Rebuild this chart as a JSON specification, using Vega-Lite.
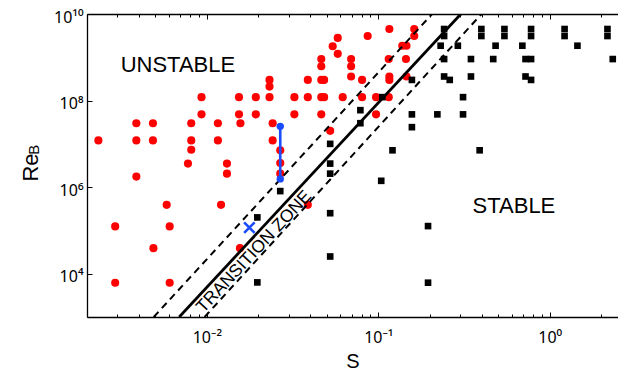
{
  "$schema": "https://vega.github.io/schema/vega-lite/v6.json",
  "width": 531,
  "height": 303,
  "autosize": {"type": "none"},
  "padding": {"left": 87, "top": 14, "right": 0, "bottom": 58},
  "background": "white",
  "config": {
    "font": "Liberation Sans",
    "view": {"stroke": null},
    "axis": {
      "grid": false,
      "domainColor": "black",
      "domainWidth": 1.3,
      "tickColor": "black",
      "tickWidth": 1,
      "labelColor": "black",
      "titleColor": "black",
      "labelFont": "Noto Sans",
      "titleFont": "Liberation Sans",
      "titleFontWeight": "normal",
      "labelOverlap": false,
      "labelBound": false,
      "labelFlush": false
    }
  },
  "datasets": {
    "unstable": [
      {"S": 0.00233, "Re": 1.2e7},
      {"S": 0.00388, "Re": 3.0e7},
      {"S": 0.00388, "Re": 1.2e7},
      {"S": 0.00388, "Re": 1.75e6},
      {"S": 0.00485, "Re": 3.0e7},
      {"S": 0.00485, "Re": 1.2e7},
      {"S": 0.00776, "Re": 3.5e6},
      {"S": 0.00811, "Re": 3.0e7},
      {"S": 0.00811, "Re": 1.2e7},
      {"S": 0.00811, "Re": 7.3e6},
      {"S": 0.00931, "Re": 1.2e8},
      {"S": 0.00931, "Re": 4.8e7},
      {"S": 0.0116, "Re": 3.0e7},
      {"S": 0.0116, "Re": 1.2e7},
      {"S": 0.0131, "Re": 3.5e6},
      {"S": 0.0131, "Re": 2.05e6},
      {"S": 0.0154, "Re": 1.2e8},
      {"S": 0.0154, "Re": 4.8e7},
      {"S": 0.0157, "Re": 3.0e7},
      {"S": 0.0193, "Re": 1.2e8},
      {"S": 0.0193, "Re": 4.8e7},
      {"S": 0.0232, "Re": 3.0e8},
      {"S": 0.0232, "Re": 2.1e8},
      {"S": 0.0232, "Re": 1.2e8},
      {"S": 0.0242, "Re": 3.0e7},
      {"S": 0.0242, "Re": 1.2e7},
      {"S": 0.0268, "Re": 7.1e6},
      {"S": 0.0268, "Re": 3.6e6},
      {"S": 0.0268, "Re": 2.05e6},
      {"S": 0.0324, "Re": 1.2e8},
      {"S": 0.0324, "Re": 4.8e7},
      {"S": 0.0388, "Re": 3.0e8},
      {"S": 0.0388, "Re": 1.2e8},
      {"S": 0.0465, "Re": 9.1e8},
      {"S": 0.0465, "Re": 6.2e8},
      {"S": 0.0465, "Re": 3.0e8},
      {"S": 0.0483, "Re": 3.0e8},
      {"S": 0.0465, "Re": 1.2e8},
      {"S": 0.0483, "Re": 1.2e8},
      {"S": 0.0465, "Re": 4.8e7},
      {"S": 0.0524, "Re": 2.0e7},
      {"S": 0.0542, "Re": 1.8e9},
      {"S": 0.058, "Re": 2.8e9},
      {"S": 0.058, "Re": 1.2e9},
      {"S": 0.062, "Re": 1.2e8},
      {"S": 0.0694, "Re": 9.1e8},
      {"S": 0.0694, "Re": 6.2e8},
      {"S": 0.0694, "Re": 3.6e8},
      {"S": 0.0804, "Re": 3.0e8},
      {"S": 0.0804, "Re": 1.2e8},
      {"S": 0.0867, "Re": 3.1e9},
      {"S": 0.097, "Re": 1.2e8},
      {"S": 0.097, "Re": 4.8e7},
      {"S": 0.116, "Re": 4.5e9},
      {"S": 0.115, "Re": 9.1e8},
      {"S": 0.116, "Re": 3.6e8},
      {"S": 0.116, "Re": 3.0e8},
      {"S": 0.115, "Re": 1.2e8},
      {"S": 0.138, "Re": 1.85e9},
      {"S": 0.146, "Re": 1.85e9},
      {"S": 0.145, "Re": 9.1e8},
      {"S": 0.146, "Re": 3.6e8},
      {"S": 0.162, "Re": 4.5e9},
      {"S": 0.162, "Re": 3.1e9},
      {"S": 0.00583, "Re": 3.9e5},
      {"S": 0.0121, "Re": 3.9e5},
      {"S": 0.00292, "Re": 1.24e5},
      {"S": 0.00607, "Re": 1.24e5},
      {"S": 0.00488, "Re": 3.9e4},
      {"S": 0.00292, "Re": 6.2e3},
      {"S": 0.00607, "Re": 6.2e3},
      {"S": 0.0156, "Re": 3.9e4},
      {"S": 0.0388, "Re": 3.9e5}
    ],
    "stable": [
      {"S": 0.242, "Re": 4.5e9}, {"S": 0.399, "Re": 4.5e9}, {"S": 0.544, "Re": 4.5e9},
      {"S": 0.778, "Re": 4.5e9}, {"S": 1.22, "Re": 4.5e9}, {"S": 2.17, "Re": 4.5e9},
      {"S": 0.242, "Re": 3.1e9}, {"S": 0.399, "Re": 3.1e9}, {"S": 0.544, "Re": 3.1e9},
      {"S": 0.778, "Re": 3.1e9}, {"S": 1.22, "Re": 3.1e9}, {"S": 2.17, "Re": 3.1e9},
      {"S": 0.231, "Re": 1.85e9}, {"S": 0.291, "Re": 1.85e9}, {"S": 0.483, "Re": 1.85e9},
      {"S": 0.692, "Re": 1.85e9}, {"S": 1.45, "Re": 1.85e9},
      {"S": 0.242, "Re": 9.1e8}, {"S": 0.347, "Re": 9.1e8}, {"S": 0.468, "Re": 9.1e8},
      {"S": 0.722, "Re": 9.1e8}, {"S": 0.778, "Re": 9.1e8}, {"S": 2.33, "Re": 9.1e8},
      {"S": 0.157, "Re": 3.0e8}, {"S": 0.242, "Re": 3.6e8}, {"S": 0.261, "Re": 3.0e8},
      {"S": 0.347, "Re": 3.6e8}, {"S": 0.722, "Re": 3.6e8}, {"S": 0.778, "Re": 3.0e8},
      {"S": 0.1055, "Re": 1.2e8}, {"S": 0.312, "Re": 1.2e8},
      {"S": 0.0786, "Re": 6.0e7}, {"S": 0.0786, "Re": 3.0e7},
      {"S": 0.157, "Re": 4.8e7}, {"S": 0.157, "Re": 2.43e7},
      {"S": 0.221, "Re": 4.8e7}, {"S": 0.312, "Re": 4.8e7},
      {"S": 0.0524, "Re": 1.0e7}, {"S": 0.121, "Re": 7.1e6}, {"S": 0.39, "Re": 7.1e6},
      {"S": 0.0524, "Re": 3.5e6}, {"S": 0.0524, "Re": 2.05e6}, {"S": 0.104, "Re": 1.4e6},
      {"S": 0.0268, "Re": 8.1e5},
      {"S": 0.0197, "Re": 2.0e5},
      {"S": 0.0524, "Re": 2.5e5}, {"S": 0.0524, "Re": 2.5e4},
      {"S": 0.0197, "Re": 6.3e3},
      {"S": 0.195, "Re": 1.26e5}, {"S": 0.195, "Re": 6.2e3}
    ],
    "bounds": [
      {"band": "lower", "S": 0.0049, "Re": 1e3},
      {"band": "lower", "S": 0.206, "Re": 1e10},
      {"band": "upper", "S": 0.0097, "Re": 1e3},
      {"band": "upper", "S": 0.40, "Re": 1e10}
    ],
    "criterion": [
      {"S": 0.0069, "Re": 1e3},
      {"S": 0.303, "Re": 1e10}
    ],
    "sweep": [
      {"S": 0.0268, "Re": 1.55e6},
      {"S": 0.0268, "Re": 2.54e7}
    ],
    "marginal": [
      {"S": 0.0177, "Re": 1.16e5}
    ],
    "regions": [
      {"S": 0.00678, "Re": 6.8e8, "label": "UNSTABLE"},
      {"S": 0.618, "Re": 3.74e5, "label": "STABLE"}
    ],
    "zone": [
      {"S": 0.0189, "Re": 3.2e4, "label": "TRANSITION ZONE"}
    ],
    "subscript": [
      {"S": 0.00098, "Re": 7.3e6, "label": "B"}
    ]
  },
  "encoding": {
    "x": {"field": "S", "type": "quantitative", "scale": {"type": "log", "domain": [0.002, 2.5], "nice": false}, "axis": null},
    "y": {
      "field": "Re", "type": "quantitative",
      "scale": {"type": "log", "domain": [1000, 10000000000], "nice": false},
      "axis": {
        "orient": "left",
        "values": [10000, 1000000, 100000000, 10000000000],
        "labelExpr": "datum.value == 10000 ? '10⁴' : datum.value == 1000000 ? '10⁶' : datum.value == 100000000 ? '10⁸' : '10¹⁰'",
        "tickSize": -5,
        "labelPadding": 9,
        "labelOffset": 3,
        "labelFontSize": 16,
        "title": "Re",
        "titleFontSize": 22,
        "titleAngle": 270,
        "titleAlign": "center",
        "titleBaseline": "alphabetic",
        "titleX": -50,
        "titleY": 153
      }
    }
  },
  "layer": [
    {
      "data": {"name": "unstable"},
      "mark": {"type": "point", "shape": "circle", "filled": true, "size": 66, "color": "#ff0000", "opacity": 1},
      "encoding": {
        "x": {
          "field": "S", "type": "quantitative",
          "scale": {"type": "log", "domain": [0.002, 2.5], "nice": false},
          "axis": {
            "orient": "bottom",
            "values": [0.002, 0.003, 0.004, 0.005, 0.006, 0.007, 0.008, 0.009, 0.01, 0.02, 0.03, 0.04, 0.05, 0.06, 0.07, 0.08, 0.09, 0.1, 0.2, 0.3, 0.4, 0.5, 0.6, 0.7, 0.8, 0.9, 1, 2],
            "labelExpr": "datum.value == 0.01 ? '10⁻²' : datum.value == 0.1 ? '10⁻¹' : datum.value == 1 ? '10⁰' : ''",
            "tickSize": {"condition": {"test": "datum.value == 0.01 || datum.value == 0.1 || datum.value == 1", "value": -5}, "value": -3},
            "labelPadding": 17,
            "labelFontSize": 16,
            "title": "S",
            "titleFontSize": 20,
            "titlePadding": 4
          }
        }
      }
    },
    {
      "data": {"name": "stable"},
      "mark": {"type": "point", "shape": "square", "filled": true, "size": 44, "color": "black", "opacity": 1},
      "encoding": {
        "x": {
          "field": "S", "type": "quantitative",
          "scale": {"type": "log", "domain": [0.002, 2.5], "nice": false},
          "axis": {
            "orient": "top",
            "values": [0.002, 0.003, 0.004, 0.005, 0.006, 0.007, 0.008, 0.009, 0.01, 0.02, 0.03, 0.04, 0.05, 0.06, 0.07, 0.08, 0.09, 0.1, 0.2, 0.3, 0.4, 0.5, 0.6, 0.7, 0.8, 0.9, 1, 2],
            "labels": false,
            "title": null,
            "tickSize": {"condition": {"test": "datum.value == 0.01 || datum.value == 0.1 || datum.value == 1", "value": -5}, "value": -3}
          }
        }
      }
    },
    {
      "data": {"name": "bounds"},
      "mark": {"type": "line", "color": "black", "strokeWidth": 2, "strokeDash": [7, 5], "clip": true},
      "encoding": {"detail": {"field": "band"}}
    },
    {
      "data": {"name": "criterion"},
      "mark": {"type": "line", "color": "black", "strokeWidth": 2.8, "clip": true},
      "encoding": {}
    },
    {
      "data": {"name": "sweep"},
      "mark": {"type": "line", "color": "#1a4cff", "strokeWidth": 2.6},
      "encoding": {}
    },
    {
      "data": {"name": "sweep"},
      "mark": {"type": "point", "shape": "circle", "filled": true, "size": 55, "color": "#1a4cff", "opacity": 1}
    },
    {
      "data": {"name": "marginal"},
      "mark": {"type": "point", "shape": "M-1,-1L1,1M-1,1L1,-1", "filled": false, "size": 110, "strokeWidth": 2.6, "color": "#1a4cff", "opacity": 1}
    },
    {
      "data": {"name": "regions"},
      "mark": {"type": "text", "fontSize": 22, "align": "center", "baseline": "middle", "color": "black"},
      "encoding": {"text": {"field": "label"}}
    },
    {
      "data": {"name": "zone"},
      "mark": {"type": "text", "fontSize": 17.5, "align": "center", "baseline": "middle", "angle": -47, "color": "black"},
      "encoding": {"text": {"field": "label"}}
    },
    {
      "data": {"name": "subscript"},
      "mark": {"type": "text", "fontSize": 15, "align": "center", "baseline": "middle", "angle": -90, "color": "black"},
      "encoding": {"text": {"field": "label"}}
    }
  ],
  "resolve": {"axis": {"x": "independent"}}
}
